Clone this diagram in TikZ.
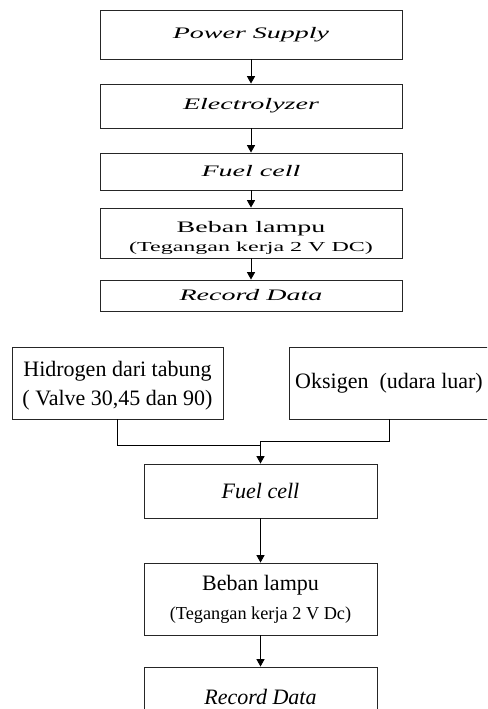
\documentclass[tikz,border=0pt]{standalone}
\usepackage{fontspec}
\setmainfont{Liberation Serif}
\newfontfamily\wideserif[FakeStretch=1.75]{Liberation Serif}
\usetikzlibrary{arrows.meta,calc}

\tikzset{
	flowbox/.style={draw=black!85, line width=0.7pt, inner sep=0pt, align=center},
	topbox/.style={flowbox, minimum width=226.5pt, font=\wideserif\fontsize{12}{14}\selectfont},
	lowbox/.style={flowbox, minimum width=174.75pt, font=\fontsize{16.5}{21}\selectfont},
	flowline/.style={draw=black, line width=0.7pt},
	flowarrow/.style={flowline, -{Triangle[width=6pt,length=5.5pt]}},
}

\begin{document}
\begin{tikzpicture}[x=0.75pt, y=-0.75pt]
		%%%%% START %%%%%
		
		\useasboundingbox (0,0) rectangle (487,709);
		\clip (0,0) rectangle (487,709);
		
		% upper chain
		\node[topbox, minimum height=36.75pt] (powersupply) at (251,34.5) {\itshape Power Supply};
		\node[topbox, minimum height=33pt] (electrolyzer) at (251,106) {\itshape Electrolyzer};
		\node[topbox, minimum height=27.75pt] (fuelcellA) at (251,171.5) {\itshape Fuel cell};
		\node[topbox, minimum height=37.5pt] (bebanA) at (251,233) {};
		\node[font=\wideserif\fontsize{12}{14}\selectfont, align=center, inner sep=0pt] (bebanAtext) at ($(bebanA)+(0,5)$) {Beban lampu\\[0.5pt]{\fontsize{10.3}{12}\selectfont (Tegangan kerja 2 V DC)}};
		\node[topbox, minimum height=23.25pt] (recordA) at (251,295.5) {\itshape Record Data};
		
		\draw[flowarrow] (powersupply) -- (electrolyzer);
		\draw[flowarrow] (electrolyzer) -- (fuelcellA);
		\draw[flowarrow] (fuelcellA) -- (bebanA);
		\draw[flowarrow] (bebanA) -- (recordA);
		
		% lower chain
		\node[lowbox, minimum width=158.25pt, minimum height=54pt] (hidrogen) at (117.5,383) {};
		\node[font=\fontsize{16.5}{21.5}\selectfont, align=center, inner sep=0pt] (hidrogentext) at ($(hidrogen)+(0,3)$) {Hidrogen dari tabung\\( Valve 30,45 dan 90)};
		\node[lowbox, minimum width=150pt, minimum height=54pt] (oksigen) at (389,383) {Oksigen\ \ (udara luar)};
		\node[lowbox, minimum height=40.5pt] (fuelcellB) at (260.5,491) {\itshape Fuel cell};
		\node[lowbox, minimum height=54pt] (bebanB) at (260.5,599) {Beban lampu\\[1pt]{\fontsize{13.7}{16}\selectfont (Tegangan kerja 2 V Dc)}};
		\node[lowbox, minimum height=45pt] (recordB) at (260.5,697) {\itshape Record Data};
		
		\draw[flowline] (hidrogen.south) |- ($(fuelcellB.north)+(0,-18)$);
		\draw[flowarrow] (oksigen.south) -- ++(0,22) -| (fuelcellB.north);
		\draw[flowarrow] (fuelcellB) -- (bebanB);
		\draw[flowarrow] (bebanB) -- (recordB);
		
		%%%%% END %%%%%
	\end{tikzpicture}
\end{document}
